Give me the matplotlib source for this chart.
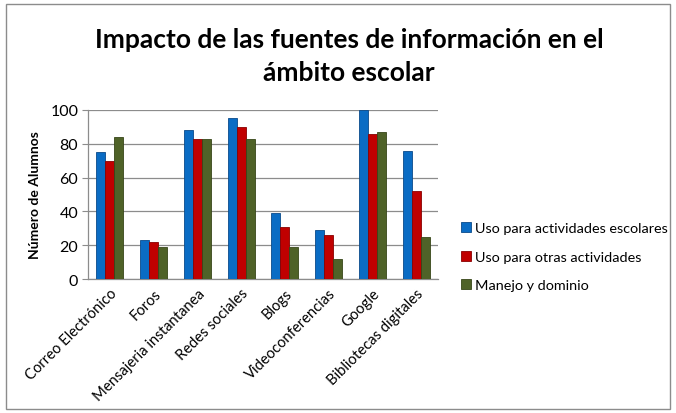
import matplotlib
matplotlib.use("Agg")
import matplotlib.pyplot as plt
import numpy as np
from matplotlib.patches import Rectangle

categories = ["Correo Electrónico", "Foros", "Mensajeria instantanea", "Redes sociales",
              "Blogs", "Videoconferencias", "Google", "Bibliotecas digitales"]
series_names = ["Uso para actividades escolares", "Uso para otras actividades", "Manejo y dominio"]
escolares = [75, 23, 88, 95, 39, 29, 100, 76]
otras = [70, 22, 83, 90, 31, 26, 86, 52]
manejo = [84, 19, 83, 83, 19, 12, 87, 25]
yticks = [0, 20, 40, 60, 80, 100]

colors = ["#0A6CC4", "#C00000", "#4F6228"]
edges = ["#0A4A8A", "#8A0000", "#374619"]

plt.rcParams['font.family'] = ['Lato', 'DejaVu Sans']

fig = plt.figure(figsize=(6.76, 4.14), dpi=100)
W, H = 676, 414
ax = fig.add_axes([88 / W, (H - 280) / H, (438 - 88) / W, (280 - 111) / H])

x = np.arange(len(categories))
bw = 0.205
for i, (vals, c, ec, name) in enumerate(zip([escolares, otras, manejo], colors, edges, series_names)):
    ax.bar(x + (i - 1) * bw, vals, bw, color=c, edgecolor=ec, linewidth=0.6, label=name, zorder=3)

ax.set_xlim(-0.5, len(categories) - 0.5)
ax.set_ylim(0, 100)
ax.set_yticks(yticks)
ax.yaxis.grid(True, color="#8c8c8c", linewidth=0.9, zorder=0)
ax.set_axisbelow(True)
for s in ["top", "right"]:
    ax.spines[s].set_visible(False)
for s in ["left", "bottom"]:
    ax.spines[s].set_color("#8c8c8c")
    ax.spines[s].set_linewidth(0.9)
ax.tick_params(axis="y", length=4, color="#8c8c8c", labelsize=11.5, pad=3)
ax.tick_params(axis="x", length=0, labelsize=10.6, pad=5)
ax.set_xticks(x)
ax.set_xticklabels(categories, rotation=45, ha="right", rotation_mode="anchor")
ax.set_ylabel("Número de Alumnos", fontsize=10, fontweight="bold", labelpad=7)

fig.text(349 / W, 1 - 40 / H, "Impacto de las fuentes de información en el", ha="center", va="center",
         fontsize=19, fontweight="bold")
fig.text(349 / W, 1 - 73 / H, "ámbito escolar", ha="center", va="center",
         fontsize=19, fontweight="bold")

leg = fig.legend(loc="upper left", bbox_to_anchor=(455 / W, 1 - 217 / H), frameon=False,
                 fontsize=10.4, handlelength=0.7, handleheight=0.7, handletextpad=0.3,
                 labelspacing=1.15, borderaxespad=0)

fig.patches.append(Rectangle((6 / W, 4 / H), (670 - 6) / W, (409 - 4) / H, transform=fig.transFigure,
                             fill=False, edgecolor="#8c8c8c", linewidth=1))

fig.savefig("out.png", dpi=100)
